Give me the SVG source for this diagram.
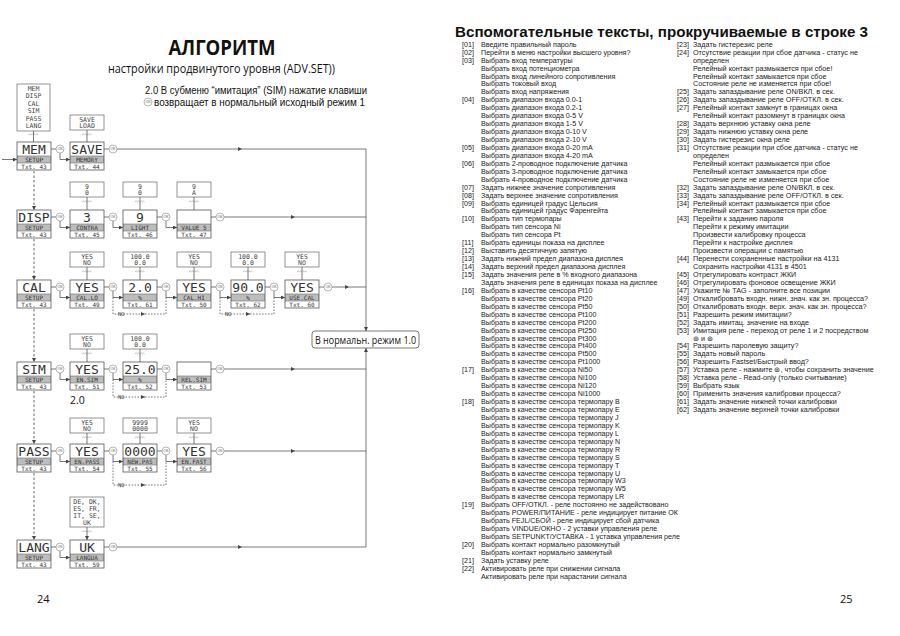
<svg xmlns="http://www.w3.org/2000/svg" xmlns:xlink="http://www.w3.org/1999/xlink" width="900" height="636" viewBox="0 0 900 636">
<defs>
<style>
.nb{fill:#fff;stroke:#555;stroke-width:0.8}
.band{fill:#bdbdbd;stroke:#555;stroke-width:0.5}
.vb{fill:#fff;stroke:#666;stroke-width:0.7}
.big{font-family:"DejaVu Sans Mono",monospace;font-size:13px;fill:#333;text-anchor:middle}
.sm{font-family:"DejaVu Sans Mono",monospace;font-size:6px;fill:#333;text-anchor:middle}
.vt{font-family:"DejaVu Sans Mono",monospace;font-size:6.5px;fill:#444;text-anchor:middle}
.wv{fill:none;stroke:#999;stroke-width:0.5}
.ln{fill:none;stroke:#555;stroke-width:0.8}
.dl{fill:none;stroke:#555;stroke-width:0.8;stroke-dasharray:1.6 1.4}
.dv{fill:none;stroke:#555;stroke-width:0.9;stroke-dasharray:2.5 2}
.t{font-family:"Liberation Sans",Arial,sans-serif;font-size:7px;fill:#222}
.h{font-family:"Open Sans","Noto Sans",sans-serif;fill:#111}
.s{font-family:"Liberation Sans",Arial,sans-serif;fill:#111}
.no{font-family:"DejaVu Sans Mono",monospace;font-size:5.5px;fill:#444}
</style>
<marker id="ar" viewBox="0 0 6 6" refX="6" refY="3" markerWidth="4" markerHeight="4" markerUnits="userSpaceOnUse" orient="auto"><path d="M0,0L6,3L0,6z" fill="#444"/></marker>
<g id="okc"><circle r="4" fill="#fff" stroke="#888" stroke-width="0.6"/><text y="1.3" text-anchor="middle" font-family="Liberation Sans,sans-serif" font-size="3.6" fill="#555">OK</text></g>
<path id="wave" class="wv" d="M-5,1.2 l1.2,-1.6 l1.2,1.6 l1.2,-1.6 l1.2,1.6 l1.2,-1.6 l1.2,1.6 l1.2,-1.6 l1.2,1.6"/>
</defs>
<rect width="900" height="636" fill="#fff"/>

<!-- Left page headings -->
<text class="h" x="222" y="55" font-size="21" font-weight="bold" text-anchor="middle" textLength="107" lengthAdjust="spacingAndGlyphs">АЛГОРИТМ</text>
<text class="h" x="108" y="73" font-size="12" textLength="227" lengthAdjust="spacingAndGlyphs">настройки продвинутого уровня (ADV.SET))</text>
<text class="s" x="145" y="94" font-size="10" textLength="222" lengthAdjust="spacingAndGlyphs">2.0 В субменю “имитация” (SIM) нажатие клавиши</text>
<use xlink:href="#okc" x="148" y="102"/>
<text class="s" x="154" y="105.5" font-size="10" textLength="211" lengthAdjust="spacingAndGlyphs">возвращает в нормальный исходный режим 1</text>
<text class="h" x="70" y="404" font-size="10.5">2.0</text>
<text class="h" x="37" y="603" font-size="11">24</text>

<!-- value boxes -->
<g id="v-menu" transform="translate(17,84)"><rect class="vb" width="33" height="47"/>
<text class="vt" x="16.5" y="6.5">MEM</text><text class="vt" x="16.5" y="14">DISP</text><text class="vt" x="16.5" y="21.5">CAL</text><text class="vt" x="16.5" y="29">SIM</text><text class="vt" x="16.5" y="36.5">PASS</text><text class="vt" x="16.5" y="44">LANG</text>
<use xlink:href="#wave" x="16.5" y="50"/></g>
<g id="v-save" transform="translate(70,115)"><rect class="vb" width="34" height="15"/><text class="vt" x="17" y="6.5">SAVE</text><text class="vt" x="17" y="13">LOAD</text><use xlink:href="#wave" x="17" y="19"/></g>
<g id="v-contra" transform="translate(70,182)"><rect class="vb" width="34" height="15"/><text class="vt" x="17" y="6.5">9</text><text class="vt" x="17" y="13">0</text><use xlink:href="#wave" x="17" y="19"/></g>
<g id="v-light" transform="translate(123,182)"><rect class="vb" width="34" height="15"/><text class="vt" x="17" y="6.5">9</text><text class="vt" x="17" y="13">0</text><use xlink:href="#wave" x="17" y="19"/></g>
<g id="v-value" transform="translate(177,182)"><rect class="vb" width="34" height="15"/><text class="vt" x="17" y="6.5">9</text><text class="vt" x="17" y="13">A</text><use xlink:href="#wave" x="17" y="19"/></g>
<g id="v-callo" transform="translate(70,252)"><rect class="vb" width="34" height="15"/><text class="vt" x="17" y="6.5">YES</text><text class="vt" x="17" y="13">NO</text><use xlink:href="#wave" x="17" y="19"/></g>
<g id="v-t61" transform="translate(123,252)"><rect class="vb" width="34" height="15"/><text class="vt" x="17" y="6.5">100.0</text><text class="vt" x="17" y="13">0.0</text><use xlink:href="#wave" x="17" y="19"/></g>
<g id="v-calhi" transform="translate(177,252)"><rect class="vb" width="34" height="15"/><text class="vt" x="17" y="6.5">YES</text><text class="vt" x="17" y="13">NO</text><use xlink:href="#wave" x="17" y="19"/></g>
<g id="v-t62" transform="translate(231,252)"><rect class="vb" width="34" height="15"/><text class="vt" x="17" y="6.5">100.0</text><text class="vt" x="17" y="13">0.0</text><use xlink:href="#wave" x="17" y="19"/></g>
<g id="v-usecal" transform="translate(285,252)"><rect class="vb" width="34" height="15"/><text class="vt" x="17" y="6.5">YES</text><text class="vt" x="17" y="13">NO</text><use xlink:href="#wave" x="17" y="19"/></g>
<g id="v-ensim" transform="translate(70,334)"><rect class="vb" width="34" height="15"/><text class="vt" x="17" y="6.5">YES</text><text class="vt" x="17" y="13">NO</text><use xlink:href="#wave" x="17" y="19"/></g>
<g id="v-t52" transform="translate(123,334)"><rect class="vb" width="34" height="15"/><text class="vt" x="17" y="6.5">100.0</text><text class="vt" x="17" y="13">0.0</text><use xlink:href="#wave" x="17" y="19"/></g>
<g id="v-enpass" transform="translate(70,418)"><rect class="vb" width="34" height="15"/><text class="vt" x="17" y="6.5">YES</text><text class="vt" x="17" y="13">NO</text><use xlink:href="#wave" x="17" y="19"/></g>
<g id="v-newpas" transform="translate(123,418)"><rect class="vb" width="34" height="15"/><text class="vt" x="17" y="6.5">9999</text><text class="vt" x="17" y="13">0000</text><use xlink:href="#wave" x="17" y="19"/></g>
<g id="v-enfast" transform="translate(177,418)"><rect class="vb" width="34" height="15"/><text class="vt" x="17" y="6.5">YES</text><text class="vt" x="17" y="13">NO</text><use xlink:href="#wave" x="17" y="19"/></g>
<g id="v-langua" transform="translate(70,497)"><rect class="vb" width="34" height="30"/><text class="vt" x="17" y="7">DE, DK,</text><text class="vt" x="17" y="14">ES, FR,</text><text class="vt" x="17" y="21">IT, SE,</text><text class="vt" x="17" y="28">UK</text><use xlink:href="#wave" x="17" y="34"/></g>

<!-- connectors -->
<g id="connectors">
<path class="ln" d="M33.5,131V142M87,130V142M87,197V210M140,197V210M194,197V210M87,267V280M140,267V280M194,267V280M248,267V280M302,267V280M87,349V362M140,349V362M87,433V444M140,433V444M194,433V444M87,527V540" marker-end="url(#ar)"/>
<path class="dv" d="M34,171V210" marker-end="url(#ar)"/>
<path class="dv" d="M34,239V280" marker-end="url(#ar)"/>
<path class="dv" d="M34,309V362" marker-end="url(#ar)"/>
<path class="dv" d="M34,391V444" marker-end="url(#ar)"/>
<path class="dv" d="M34,473V540" marker-end="url(#ar)"/>
<path class="ln" d="M2,159.5H17" marker-end="url(#ar)"/>
<path class="ln" d="M51,149H56M104,149H109"/>
<path class="ln" d="M60,153V159.5H70" marker-end="url(#ar)"/>
<path class="ln" d="M117,149H242" marker-end="url(#ar)"/>
<path class="ln" d="M242,149H366V331" marker-end="url(#ar)"/>
<path class="ln" d="M51,217H56M104,217H109M157,217H162M211,217H216"/>
<path class="ln" d="M60,221V227.5H70" marker-end="url(#ar)"/>
<path class="ln" d="M113,221V227.5H123" marker-end="url(#ar)"/>
<path class="ln" d="M166,221V227.5H177" marker-end="url(#ar)"/>
<path class="ln" d="M224,217H295" marker-end="url(#ar)"/>
<path class="ln" d="M295,217H366"/>
<path class="ln" d="M51,287H56M104,287H109M157,287H162M211,287H216M265,287H270M319,287H324"/>
<path class="ln" d="M60,291V297.5H70" marker-end="url(#ar)"/>
<path class="ln" d="M113,291V297.5H123" marker-end="url(#ar)"/>
<path class="ln" d="M166,291V297.5H177" marker-end="url(#ar)"/>
<path class="ln" d="M220,291V297.5H231" marker-end="url(#ar)"/>
<path class="ln" d="M274,291V297.5H285" marker-end="url(#ar)"/>
<path class="ln" d="M332,287H349" marker-end="url(#ar)"/>
<path class="ln" d="M349,287H366"/>
<path class="dl" d="M113,297.5V314H145" marker-end="url(#ar)"/>
<path class="dl" d="M145,314H166V297.5"/>
<path class="dl" d="M220,297.5V314H250" marker-end="url(#ar)"/>
<path class="dl" d="M250,314H274V297.5"/>
<path class="ln" d="M51,369H56M104,369H109M157,369H162M211,369H216"/>
<path class="ln" d="M60,373V379.5H70" marker-end="url(#ar)"/>
<path class="ln" d="M113,373V379.5H123" marker-end="url(#ar)"/>
<path class="ln" d="M166,373V379.5H177" marker-end="url(#ar)"/>
<path class="ln" d="M224,369H295" marker-end="url(#ar)"/>
<path class="ln" d="M295,369H366"/>
<path class="dl" d="M113,379.5V397H145" marker-end="url(#ar)"/>
<path class="dl" d="M145,397H166V379.5"/>
<path class="ln" d="M51,451H56M104,451H109M157,451H162M211,451H216"/>
<path class="ln" d="M60,455V461.5H70" marker-end="url(#ar)"/>
<path class="ln" d="M113,455V461.5H123" marker-end="url(#ar)"/>
<path class="ln" d="M166,455V461.5H177" marker-end="url(#ar)"/>
<path class="ln" d="M224,451H295" marker-end="url(#ar)"/>
<path class="ln" d="M295,451H366"/>
<path class="dl" d="M113,461.5V485H145" marker-end="url(#ar)"/>
<path class="dl" d="M145,485H166V461.5"/>
<path class="ln" d="M51,547H56M104,547H109"/>
<path class="ln" d="M60,551V557.5H70" marker-end="url(#ar)"/>
<path class="ln" d="M117,547H242" marker-end="url(#ar)"/>
<path class="ln" d="M242,547H366V348" marker-end="url(#ar)"/>
<use xlink:href="#okc" x="60" y="149"/><use xlink:href="#okc" x="113" y="149"/>
<use xlink:href="#okc" x="60" y="217"/><use xlink:href="#okc" x="113" y="217"/><use xlink:href="#okc" x="166" y="217"/><use xlink:href="#okc" x="220" y="217"/>
<use xlink:href="#okc" x="60" y="287"/><use xlink:href="#okc" x="113" y="287"/><use xlink:href="#okc" x="166" y="287"/><use xlink:href="#okc" x="220" y="287"/><use xlink:href="#okc" x="274" y="287"/><use xlink:href="#okc" x="328" y="287"/>
<use xlink:href="#okc" x="60" y="369"/><use xlink:href="#okc" x="113" y="369"/><use xlink:href="#okc" x="166" y="369"/><use xlink:href="#okc" x="220" y="369"/>
<use xlink:href="#okc" x="60" y="451"/><use xlink:href="#okc" x="113" y="451"/><use xlink:href="#okc" x="166" y="451"/><use xlink:href="#okc" x="220" y="451"/>
<use xlink:href="#okc" x="60" y="547"/><use xlink:href="#okc" x="113" y="547"/>
<text class="no" x="118" y="316">NO</text>
<text class="no" x="225" y="316">NO</text>
<text class="no" x="118" y="399">NO</text>
<text class="no" x="118" y="487">NO</text>
</g>

<!-- nodes -->
<g id="n-mem" transform="translate(17,142)"><rect class="nb" width="34" height="28"/><rect class="band" x="0.4" y="14" width="33.2" height="7"/><text class="big" x="17" y="12.2">MEM</text><text class="sm" x="17" y="19.8">SETUP</text><text class="sm" x="17" y="27">Txt. 43</text></g>
<g id="n-save" transform="translate(70,142)"><rect class="nb" width="34" height="28"/><rect class="band" x="0.4" y="14" width="33.2" height="7"/><text class="big" x="17" y="12.2">SAVE</text><text class="sm" x="17" y="19.8">MEMORY</text><text class="sm" x="17" y="27">Txt. 44</text></g>
<g id="n-disp" transform="translate(17,210)"><rect class="nb" width="34" height="28"/><rect class="band" x="0.4" y="14" width="33.2" height="7"/><text class="big" x="17" y="12.2">DISP</text><text class="sm" x="17" y="19.8">SETUP</text><text class="sm" x="17" y="27">Txt. 43</text></g>
<g id="n-contra" transform="translate(70,210)"><rect class="nb" width="34" height="28"/><rect class="band" x="0.4" y="14" width="33.2" height="7"/><text class="big" x="17" y="12.2">3</text><text class="sm" x="17" y="19.8">CONTRA</text><text class="sm" x="17" y="27">Txt. 45</text></g>
<g id="n-light" transform="translate(123,210)"><rect class="nb" width="34" height="28"/><rect class="band" x="0.4" y="14" width="33.2" height="7"/><text class="big" x="17" y="12.2">9</text><text class="sm" x="17" y="19.8">LIGHT</text><text class="sm" x="17" y="27">Txt. 46</text></g>
<g id="n-value" transform="translate(177,210)"><rect class="nb" width="34" height="28"/><rect class="band" x="0.4" y="14" width="33.2" height="7"/><text class="sm" x="17" y="19.8">VALUE 5</text><text class="sm" x="17" y="27">Txt. 47</text></g>
<g id="n-cal" transform="translate(17,280)"><rect class="nb" width="34" height="28"/><rect class="band" x="0.4" y="14" width="33.2" height="7"/><text class="big" x="17" y="12.2">CAL</text><text class="sm" x="17" y="19.8">SETUP</text><text class="sm" x="17" y="27">Txt. 43</text></g>
<g id="n-callo" transform="translate(70,280)"><rect class="nb" width="34" height="28"/><rect class="band" x="0.4" y="14" width="33.2" height="7"/><text class="big" x="17" y="12.2">YES</text><text class="sm" x="17" y="19.8">CAL.LO</text><text class="sm" x="17" y="27">Txt. 49</text></g>
<g id="n-t61" transform="translate(123,280)"><rect class="nb" width="34" height="28"/><rect class="band" x="0.4" y="14" width="33.2" height="7"/><text class="big" x="17" y="12.2">2.0</text><text class="sm" x="17" y="19.8">%</text><text class="sm" x="17" y="27">Txt. 61</text></g>
<g id="n-calhi" transform="translate(177,280)"><rect class="nb" width="34" height="28"/><rect class="band" x="0.4" y="14" width="33.2" height="7"/><text class="big" x="17" y="12.2">YES</text><text class="sm" x="17" y="19.8">CAL.HI</text><text class="sm" x="17" y="27">Txt. 50</text></g>
<g id="n-t62" transform="translate(231,280)"><rect class="nb" width="34" height="28"/><rect class="band" x="0.4" y="14" width="33.2" height="7"/><text class="big" x="17" y="12.2">90.0</text><text class="sm" x="17" y="19.8">%</text><text class="sm" x="17" y="27">Txt. 62</text></g>
<g id="n-usecal" transform="translate(285,280)"><rect class="nb" width="34" height="28"/><rect class="band" x="0.4" y="14" width="33.2" height="7"/><text class="big" x="17" y="12.2">YES</text><text class="sm" x="17" y="19.8">USE.CAL</text><text class="sm" x="17" y="27">Txt. 60</text></g>
<g id="n-sim" transform="translate(17,362)"><rect class="nb" width="34" height="28"/><rect class="band" x="0.4" y="14" width="33.2" height="7"/><text class="big" x="17" y="12.2">SIM</text><text class="sm" x="17" y="19.8">SETUP</text><text class="sm" x="17" y="27">Txt. 43</text></g>
<g id="n-ensim" transform="translate(70,362)"><rect class="nb" width="34" height="28"/><rect class="band" x="0.4" y="14" width="33.2" height="7"/><text class="big" x="17" y="12.2">YES</text><text class="sm" x="17" y="19.8">EN.SIM</text><text class="sm" x="17" y="27">Txt. 51</text></g>
<g id="n-t52" transform="translate(123,362)"><rect class="nb" width="34" height="28"/><rect class="band" x="0.4" y="14" width="33.2" height="7"/><text class="big" x="17" y="12.2">25.0</text><text class="sm" x="17" y="19.8">%</text><text class="sm" x="17" y="27">Txt. 52</text></g>
<g id="n-relsim" transform="translate(177,362)"><rect class="nb" width="34" height="28"/><rect class="band" x="0.4" y="14" width="33.2" height="7"/><text class="sm" x="17" y="19.8">REL.SIM</text><text class="sm" x="17" y="27">Txt. 53</text></g>
<g id="n-pass" transform="translate(17,444)"><rect class="nb" width="34" height="28"/><rect class="band" x="0.4" y="14" width="33.2" height="7"/><text class="big" x="17" y="12.2">PASS</text><text class="sm" x="17" y="19.8">SETUP</text><text class="sm" x="17" y="27">Txt. 43</text></g>
<g id="n-enpass" transform="translate(70,444)"><rect class="nb" width="34" height="28"/><rect class="band" x="0.4" y="14" width="33.2" height="7"/><text class="big" x="17" y="12.2">YES</text><text class="sm" x="17" y="19.8">EN.PASS</text><text class="sm" x="17" y="27">Txt. 54</text></g>
<g id="n-newpas" transform="translate(123,444)"><rect class="nb" width="34" height="28"/><rect class="band" x="0.4" y="14" width="33.2" height="7"/><text class="big" x="17" y="12.2">0000</text><text class="sm" x="17" y="19.8">NEW.PAS</text><text class="sm" x="17" y="27">Txt. 55</text></g>
<g id="n-enfast" transform="translate(177,444)"><rect class="nb" width="34" height="28"/><rect class="band" x="0.4" y="14" width="33.2" height="7"/><text class="big" x="17" y="12.2">YES</text><text class="sm" x="17" y="19.8">EN.FAST</text><text class="sm" x="17" y="27">Txt. 56</text></g>
<g id="n-lang" transform="translate(17,540)"><rect class="nb" width="34" height="28"/><rect class="band" x="0.4" y="14" width="33.2" height="7"/><text class="big" x="17" y="12.2">LANG</text><text class="sm" x="17" y="19.8">SETUP</text><text class="sm" x="17" y="27">Txt. 43</text></g>
<g id="n-langua" transform="translate(70,540)"><rect class="nb" width="34" height="28"/><rect class="band" x="0.4" y="14" width="33.2" height="7"/><text class="big" x="17" y="12.2">UK</text><text class="sm" x="17" y="19.8">LANGUA</text><text class="sm" x="17" y="27">Txt. 59</text></g>
<g id="n-normal"><rect x="312" y="331" width="107" height="17" rx="3" fill="#fff" stroke="#555" stroke-width="0.8"/><text class="h" x="315" y="343.5" font-size="10.5" textLength="101" lengthAdjust="spacingAndGlyphs">В нормальн. режим 1.0</text></g>

<!-- Right page -->
<text class="s" x="455" y="37" font-size="15.5" font-weight="bold" textLength="413" lengthAdjust="spacingAndGlyphs">Вспомогательные тексты, прокручиваемые в строке 3</text>
<text class="h" x="840" y="603" font-size="11">25</text>

<g transform="translate(462,0) scale(1.02,1)"><text class="t">
<tspan x="0" y="46.8">[01]</tspan><tspan x="0" y="54.7">[02]</tspan><tspan x="0" y="62.7">[03]</tspan><tspan x="0" y="102.4">[04]</tspan><tspan x="0" y="150.0">[05]</tspan><tspan x="0" y="165.9">[06]</tspan><tspan x="0" y="189.7">[07]</tspan><tspan x="0" y="197.7">[08]</tspan><tspan x="0" y="205.6">[09]</tspan><tspan x="0" y="221.5">[10]</tspan><tspan x="0" y="245.3">[11]</tspan><tspan x="0" y="253.2">[12]</tspan><tspan x="0" y="261.2">[13]</tspan><tspan x="0" y="269.1">[14]</tspan><tspan x="0" y="277.1">[15]</tspan><tspan x="0" y="292.9">[16]</tspan><tspan x="0" y="372.3">[17]</tspan><tspan x="0" y="404.1">[18]</tspan><tspan x="0" y="507.3">[19]</tspan><tspan x="0" y="547.0">[20]</tspan><tspan x="0" y="562.9">[21]</tspan><tspan x="0" y="570.8">[22]</tspan>
</text></g>
<g transform="translate(481,0) scale(1.02,1)"><text class="t">
<tspan x="0" y="46.8">Введите правильный пароль</tspan>
<tspan x="0" y="54.7">Перейти в меню настройки высшего уровня?</tspan>
<tspan x="0" y="62.7">Выбрать вход температуры</tspan>
<tspan x="0" y="70.6">Выбрать вход потенциометра</tspan>
<tspan x="0" y="78.6">Выбрать вход линейного сопротивления</tspan>
<tspan x="0" y="86.5">Выбрать токовый вход</tspan>
<tspan x="0" y="94.4">Выбрать вход напряжения</tspan>
<tspan x="0" y="102.4">Выбрать диапазон входа 0.0-1</tspan>
<tspan x="0" y="110.3">Выбрать диапазон входа 0.2-1</tspan>
<tspan x="0" y="118.3">Выбрать диапазон входа 0-5 V</tspan>
<tspan x="0" y="126.2">Выбрать диапазон входа 1-5 V</tspan>
<tspan x="0" y="134.1">Выбрать диапазон входа 0-10 V</tspan>
<tspan x="0" y="142.1">Выбрать диапазон входа 2-10 V</tspan>
<tspan x="0" y="150.0">Выбрать диапазон входа 0-20 mA</tspan>
<tspan x="0" y="158.0">Выбрать диапазон входа 4-20 mA</tspan>
<tspan x="0" y="165.9">Выбрать 2-проводное подключение датчика</tspan>
<tspan x="0" y="173.8">Выбрать 3-проводное подключение датчика</tspan>
<tspan x="0" y="181.8">Выбрать 4-проводное подключение датчика</tspan>
<tspan x="0" y="189.7">Задать нижнее значение сопротивления</tspan>
<tspan x="0" y="197.7">Задать верхнее значение сопротивления</tspan>
<tspan x="0" y="205.6">Выбрать единицей градус Цельсия</tspan>
<tspan x="0" y="213.5">Выбрать единицей градус Фаренгейта</tspan>
<tspan x="0" y="221.5">Выбрать тип термопары</tspan>
<tspan x="0" y="229.4">Выбрать тип сенсора Ni</tspan>
<tspan x="0" y="237.4">Выбрать тип сенсора Pt</tspan>
<tspan x="0" y="245.3">Выбрать единицы показа на дисплее</tspan>
<tspan x="0" y="253.2">Выставить десятичную запятую</tspan>
<tspan x="0" y="261.2">Задать нижний предел диапазона дисплея</tspan>
<tspan x="0" y="269.1">Задать верхний предел диапазона дисплея</tspan>
<tspan x="0" y="277.1">Задать значения реле в % входного диапазона</tspan>
<tspan x="0" y="285.0">Задать значения реле в единицах показа на дисплее</tspan>
<tspan x="0" y="292.9">Выбрать в качестве сенсора Pt10</tspan>
<tspan x="0" y="300.9">Выбрать в качестве сенсора Pt20</tspan>
<tspan x="0" y="308.8">Выбрать в качестве сенсора  Pt50</tspan>
<tspan x="0" y="316.8">Выбрать в качестве сенсора Pt100</tspan>
<tspan x="0" y="324.7">Выбрать в качестве сенсора Pt200</tspan>
<tspan x="0" y="332.6">Выбрать в качестве сенсора Pt250</tspan>
<tspan x="0" y="340.6">Выбрать в качестве сенсора Pt300</tspan>
<tspan x="0" y="348.5">Выбрать в качестве сенсора Pt400</tspan>
<tspan x="0" y="356.5">Выбрать в качестве сенсора Pt500</tspan>
<tspan x="0" y="364.4">Выбрать в качестве сенсора Pt1000</tspan>
<tspan x="0" y="372.3">Выбрать в качестве сенсора  Ni50</tspan>
<tspan x="0" y="380.3">Выбрать в качестве сенсора  Ni100</tspan>
<tspan x="0" y="388.2">Выбрать в качестве сенсора  Ni120</tspan>
<tspan x="0" y="396.2">Выбрать в качестве сенсора  Ni1000</tspan>
<tspan x="0" y="404.1">Выбрать в качестве сенсора термопару B</tspan>
<tspan x="0" y="412.0">Выбрать в качестве сенсора термопару E</tspan>
<tspan x="0" y="420.0">Выбрать в качестве сенсора термопару J</tspan>
<tspan x="0" y="427.9">Выбрать в качестве сенсора термопару K</tspan>
<tspan x="0" y="435.9">Выбрать в качестве сенсора термопару L</tspan>
<tspan x="0" y="443.8">Выбрать в качестве сенсора термопару N</tspan>
<tspan x="0" y="451.7">Выбрать в качестве сенсора термопару R</tspan>
<tspan x="0" y="459.7">Выбрать в качестве сенсора термопару S</tspan>
<tspan x="0" y="467.6">Выбрать в качестве сенсора термопару T</tspan>
<tspan x="0" y="475.6">Выбрать в качестве сенсора термопару U</tspan>
<tspan x="0" y="483.5">Выбрать в качестве сенсора термопару W3</tspan>
<tspan x="0" y="491.4">Выбрать в качестве сенсора термопару W5</tspan>
<tspan x="0" y="499.4">Выбрать в качестве сенсора термопару LR</tspan>
<tspan x="0" y="507.3">Выбрать OFF/ОТКЛ. - реле постоянно не задействовано</tspan>
<tspan x="0" y="515.3">Выбрать POWER/ПИТАНИЕ - реле индицирует питание ОК</tspan>
<tspan x="0" y="523.2">Выбрать FEJL/СБОЙ - реле индицирует сбой датчика</tspan>
<tspan x="0" y="531.1">Выбрать VINDUE/ОКНО - 2 уставки управления реле</tspan>
<tspan x="0" y="539.1">Выбрать SETPUNKT/УСТАВКА - 1 уставка управления реле</tspan>
<tspan x="0" y="547.0">Выбрать контакт нормально разомкнутый</tspan>
<tspan x="0" y="555.0">Выбрать контакт нормально замкнутый</tspan>
<tspan x="0" y="562.9">Задать уставку реле</tspan>
<tspan x="0" y="570.8">Активировать реле при снижении сигнала</tspan>
<tspan x="0" y="578.8">Активировать реле при нарастании сигнала</tspan>
</text></g>

<g transform="translate(677,0) scale(1.03,1)"><text class="t">
<tspan x="0" y="46.8">[23]</tspan><tspan x="0" y="54.7">[24]</tspan><tspan x="0" y="94.4">[25]</tspan><tspan x="0" y="102.4">[26]</tspan><tspan x="0" y="110.3">[27]</tspan><tspan x="0" y="126.2">[28]</tspan><tspan x="0" y="134.1">[29]</tspan><tspan x="0" y="142.1">[30]</tspan><tspan x="0" y="150.0">[31]</tspan><tspan x="0" y="189.7">[32]</tspan><tspan x="0" y="197.7">[33]</tspan><tspan x="0" y="205.6">[34]</tspan><tspan x="0" y="221.5">[43]</tspan><tspan x="0" y="261.2">[44]</tspan><tspan x="0" y="277.1">[45]</tspan><tspan x="0" y="285.0">[46]</tspan><tspan x="0" y="292.9">[47]</tspan><tspan x="0" y="300.9">[49]</tspan><tspan x="0" y="308.8">[50]</tspan><tspan x="0" y="316.8">[51]</tspan><tspan x="0" y="324.7">[52]</tspan><tspan x="0" y="332.6">[53]</tspan><tspan x="0" y="348.5">[54]</tspan><tspan x="0" y="356.5">[55]</tspan><tspan x="0" y="364.4">[56]</tspan><tspan x="0" y="372.3">[57]</tspan><tspan x="0" y="380.3">[58]</tspan><tspan x="0" y="388.2">[59]</tspan><tspan x="0" y="396.2">[60]</tspan><tspan x="0" y="404.1">[61]</tspan><tspan x="0" y="412.0">[62]</tspan>
</text></g>
<g transform="translate(693,0) scale(1.03,1)"><text class="t">
<tspan x="0" y="46.8">Задать гистерезис реле</tspan>
<tspan x="0" y="54.7">Отсутствие реакции при сбое датчика - статус не</tspan>
<tspan x="0" y="62.7">определен</tspan>
<tspan x="0" y="70.6">Релейный контакт размыкается при сбое!</tspan>
<tspan x="0" y="78.6">Релейный контакт замыкается при сбое</tspan>
<tspan x="0" y="86.5">Состояние реле не изменяется при сбое!</tspan>
<tspan x="0" y="94.4">Задать запаздывание реле ON/ВКЛ. в сек.</tspan>
<tspan x="0" y="102.4">Задать запаздывание реле OFF/ОТКЛ. в сек.</tspan>
<tspan x="0" y="110.3">Релейный контакт замкнут в границах окна</tspan>
<tspan x="0" y="118.3">Релейный контакт разомкнут в границах окна</tspan>
<tspan x="0" y="126.2">Задать верхнюю уставку окна реле</tspan>
<tspan x="0" y="134.1">Задать нижнюю уставку окна реле</tspan>
<tspan x="0" y="142.1">Задать гистерезис окна реле</tspan>
<tspan x="0" y="150.0">Отсутствие реакции при сбое датчика - статус не</tspan>
<tspan x="0" y="158.0">определен</tspan>
<tspan x="0" y="165.9">Релейный контакт размыкается при сбое</tspan>
<tspan x="0" y="173.8">Релейный контакт замыкается при сбое</tspan>
<tspan x="0" y="181.8">Состояние реле не изменяется при сбое</tspan>
<tspan x="0" y="189.7">Задать запаздывание реле ON/ВКЛ. в сек.</tspan>
<tspan x="0" y="197.7">Задать запаздывание реле OFF/ОТКЛ. в сек.</tspan>
<tspan x="0" y="205.6">Релейный контакт размыкается при сбое</tspan>
<tspan x="0" y="213.5">Релейный контакт замыкается при сбое</tspan>
<tspan x="0" y="221.5">Перейти к заданию пароля</tspan>
<tspan x="0" y="229.4">Перейти к режиму имитации</tspan>
<tspan x="0" y="237.4">Произвести калибровку процесса</tspan>
<tspan x="0" y="245.3">Перейти к настройке дисплея</tspan>
<tspan x="0" y="253.2">Произвести операции с памятью</tspan>
<tspan x="0" y="261.2">Перенести сохраненные настройки на 4131</tspan>
<tspan x="0" y="269.1">Сохранить настройки 4131 в 4501</tspan>
<tspan x="0" y="277.1">Отрегулировать контраст ЖКИ</tspan>
<tspan x="0" y="285.0">Отрегулировать фоновое освещение ЖКИ</tspan>
<tspan x="0" y="292.9">Укажите № TAG - заполните все позиции</tspan>
<tspan x="0" y="300.9">Откалибровать входн. нижн. знач. как зн. процесса?</tspan>
<tspan x="0" y="308.8">Откалибровать входн. верх. знач. как зн. процесса?</tspan>
<tspan x="0" y="316.8">Разрешить режим имитации?</tspan>
<tspan x="0" y="324.7">Задать имитац. значение на входе</tspan>
<tspan x="0" y="332.6">Имитация реле -  переход от реле 1 и 2 посредством</tspan>
<tspan x="0" y="340.6">⊛ и ⊛</tspan>
<tspan x="0" y="348.5">Разрешить паролевую защиту?</tspan>
<tspan x="0" y="356.5">Задать новый пароль</tspan>
<tspan x="0" y="364.4">Разрешить Fastset/Быстрый ввод?</tspan>
<tspan x="0" y="372.3">Уставка реле - нажмите ⊛, чтобы сохранить значение</tspan>
<tspan x="0" y="380.3">Уставка реле - Read-only (только считывание)</tspan>
<tspan x="0" y="388.2">Выбрать язык</tspan>
<tspan x="0" y="396.2">Применить значения калибровки процесса?</tspan>
<tspan x="0" y="404.1">Задать значение нижней точки калибровки</tspan>
<tspan x="0" y="412.0">Задать значение верхней точки калибровки</tspan>
</text></g>
</svg>
